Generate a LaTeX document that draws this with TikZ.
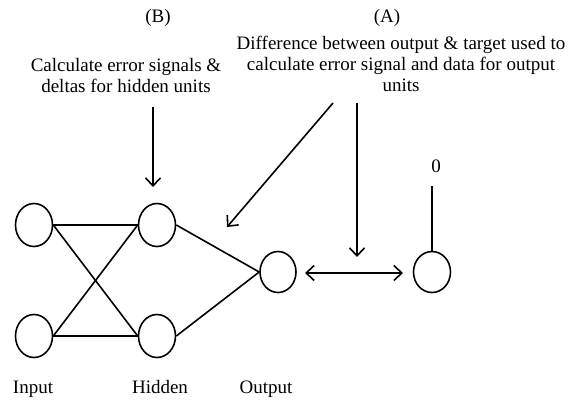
\documentclass[tikz,border=0pt]{standalone}
\usepackage{fontspec}
\setmainfont{Liberation Serif}
\usetikzlibrary{shapes.geometric,arrows.meta}
\begin{document}
\begin{tikzpicture}[x=1pt,y=-1pt,
  unit/.style={draw,ellipse,line width=1.6pt,inner sep=0pt,minimum width=37pt,minimum height=43pt},
  link/.style={line width=1.6pt},
  arr/.style={line width=1.6pt,-{Straight Barb[length=8pt,width=15pt,line width=1.6pt]}},
  darr/.style={line width=1.6pt,{Straight Barb[length=8pt,width=15pt,line width=1.6pt]}-{Straight Barb[length=8pt,width=15pt,line width=1.6pt]}},
  txt/.style={font=\fontsize{19}{21}\selectfont,inner sep=0pt,align=center}]
\useasboundingbox (0,0) rectangle (584,408);
% units
\node[unit] (i1) at (34,225) {};
\node[unit] (i2) at (34,336) {};
\node[unit] (h1) at (157,225) {};
\node[unit] (h2) at (157,336) {};
\node[unit,minimum width=36pt,minimum height=41pt] (o) at (278,272) {};
\node[unit,minimum width=37pt,minimum height=41pt] (t) at (432,272) {};
% links
\draw[link] (i1.east) -- (h1.west);
\draw[link] (i1.east) -- (h2.west);
\draw[link] (i2.east) -- (h1.west);
\draw[link] (i2.east) -- (h2.west);
\draw[link] (h1.east) -- (o.west);
\draw[link] (h2.east) -- (o.west);
% target
\coordinate (ttop) at (432,186);
\draw[link] (t.north) -- (ttop);
\node[txt] (zero) at (436,166) {0};
% double arrow
\coordinate (dl) at (305,273);
\coordinate (dr) at (403,273);
\draw[darr] (dl) -- (dr);
% labels
\node[txt,anchor=base] (lin) at (33,393) {Input};
\node[txt,anchor=base] (lhid) at (160,393) {Hidden};
\node[txt,anchor=base] (lout) at (266,393) {Output};
\node[txt] (lb) at (158,18) {(B)};
\node[txt] (la) at (387,18) {(A)};
\node[txt] (tb) at (126,75) {Calculate error signals \&\\deltas for hidden units};
\node[txt] (ta) at (401,64) {Difference between output \& target used to\\calculate error signal and data for output\\units};
% arrows
\coordinate (bs) at (153,107);
\coordinate (be) at (153,187);
\draw[arr] (bs) -- (be);
\coordinate (as) at (333,103);
\coordinate (ae) at (227,227);
\draw[arr] (as) -- (ae);
\coordinate (vs) at (357,103);
\coordinate (ve) at (357,257);
\draw[arr] (vs) -- (ve);
\end{tikzpicture}
\end{document}
